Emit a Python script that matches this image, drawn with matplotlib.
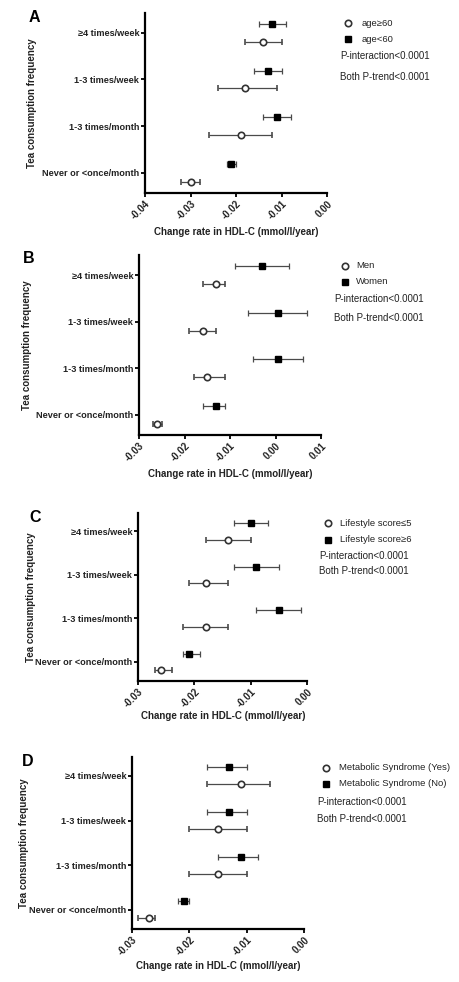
import numpy as np
import matplotlib
matplotlib.use('Agg')
import matplotlib.pyplot as plt
from matplotlib.lines import Line2D

plt.rcParams['font.family'] = ['Liberation Sans', 'DejaVu Sans']

# y categories, bottom to top
categories = ['Never or <once/month', '1-3 times/month', '1-3 times/week', '≥4 times/week']

# Panel A - age
a_open_mean = [-0.030, -0.019, -0.018, -0.014]
a_open_lo = [-0.032, -0.026, -0.024, -0.018]
a_open_hi = [-0.028, -0.012, -0.011, -0.010]
a_fill_mean = [-0.021, -0.011, -0.013, -0.012]
a_fill_lo = [-0.022, -0.014, -0.016, -0.015]
a_fill_hi = [-0.020, -0.008, -0.010, -0.009]

# Panel B - sex
b_open_mean = [-0.026, -0.015, -0.016, -0.013]
b_open_lo = [-0.027, -0.018, -0.019, -0.016]
b_open_hi = [-0.025, -0.011, -0.013, -0.011]
b_fill_mean = [-0.013, 0.0005, 0.0005, -0.003]
b_fill_lo = [-0.016, -0.005, -0.006, -0.009]
b_fill_hi = [-0.011, 0.006, 0.007, 0.003]

# Panel C - lifestyle score
c_open_mean = [-0.026, -0.018, -0.018, -0.014]
c_open_lo = [-0.027, -0.022, -0.021, -0.018]
c_open_hi = [-0.024, -0.014, -0.014, -0.010]
c_fill_mean = [-0.021, -0.005, -0.009, -0.010]
c_fill_lo = [-0.022, -0.009, -0.013, -0.013]
c_fill_hi = [-0.019, -0.001, -0.005, -0.007]

# Panel D - metabolic syndrome
d_open_mean = [-0.027, -0.015, -0.015, -0.011]
d_open_lo = [-0.029, -0.020, -0.020, -0.017]
d_open_hi = [-0.026, -0.010, -0.010, -0.006]
d_fill_mean = [-0.021, -0.011, -0.013, -0.013]
d_fill_lo = [-0.022, -0.015, -0.017, -0.017]
d_fill_hi = [-0.020, -0.008, -0.010, -0.010]

W, H = 459, 982
fig = plt.figure(figsize=(W / 100, H / 100), dpi=100)
fig.patch.set_facecolor('white')


def px_axes(left, top, right, bottom):
    return fig.add_axes([left / W, 1 - bottom / H, (right - left) / W, (bottom - top) / H])


def fx(x):
    return x / W


def fy(y):
    return 1 - y / H


panels = [
    # letter, axes box (l, t, r, b) in pixels, xticks, data, legend labels + positions
    dict(letter='A', box=(145, 12.7, 327, 192.7), xticks=[-0.04, -0.03, -0.02, -0.01, 0.00],
         opn=(a_open_mean, a_open_lo, a_open_hi), fil=(a_fill_mean, a_fill_lo, a_fill_hi),
         labels=('age≥60', 'age<60'), leg=(348, 362, 340, 23, 39, 56, 77),
         xlab=(236, 232), ylab=32, let=(34, 17)),
    dict(letter='B', box=(139, 255, 321, 435), xticks=[-0.03, -0.02, -0.01, 0.00, 0.01],
         opn=(b_open_mean, b_open_lo, b_open_hi), fil=(b_fill_mean, b_fill_lo, b_fill_hi),
         labels=('Men', 'Women'), leg=(345, 356, 334, 266, 282, 299, 318),
         xlab=(230, 474), ylab=27, let=(29, 258)),
    dict(letter='C', box=(138, 512.7, 307, 680.7), xticks=[-0.03, -0.02, -0.01, 0.00],
         opn=(c_open_mean, c_open_lo, c_open_hi), fil=(c_fill_mean, c_fill_lo, c_fill_hi),
         labels=('Lifestyle score≤5', 'Lifestyle score≥6'), leg=(328, 340, 319, 523, 540, 556, 571),
         xlab=(223, 716), ylab=31, let=(35, 517)),
    dict(letter='D', box=(132, 756.7, 304, 929), xticks=[-0.03, -0.02, -0.01, 0.00],
         opn=(d_open_mean, d_open_lo, d_open_hi), fil=(d_fill_mean, d_fill_lo, d_fill_hi),
         labels=('Metabolic Syndrome (Yes)', 'Metabolic Syndrome (No)'), leg=(326, 339, 317, 768, 784, 802, 819),
         xlab=(218, 966), ylab=24, let=(28, 762)),
]

pos = np.arange(len(categories))
off = 0.19
ecol = '#4a4a4a'

for p in panels:
    ax = px_axes(*p['box'])
    om, olo, ohi = [np.array(v) for v in p['opn']]
    fm, flo, fhi = [np.array(v) for v in p['fil']]

    # filled squares (upper row)
    ax.errorbar(fm, pos + off, xerr=[fm - flo, fhi - fm], fmt='s', color='black',
                ecolor=ecol, elinewidth=0.9, capsize=1.9, capthick=0.9, markersize=4.0, zorder=3)
    # open circles (lower row)
    ax.errorbar(om, pos - off, xerr=[om - olo, ohi - om], fmt='o', mfc='white', mec='#333333',
                mew=1.2, ecolor=ecol, elinewidth=0.9, capsize=1.9, capthick=0.9, markersize=4.6, zorder=3)

    ax.set_ylim(-0.43, 3.43)
    ax.set_xlim(p['xticks'][0], p['xticks'][-1])
    ax.set_yticks(pos)
    ax.set_yticklabels(categories, fontsize=6.6, fontweight='bold', color='#222222')
    ax.set_xticks(p['xticks'])
    ax.set_xticklabels(['%.2f' % t for t in p['xticks']], fontsize=7, fontweight='bold',
                       rotation=45, ha='right', rotation_mode='anchor', color='#222222')
    ax.tick_params(axis='both', direction='out', length=3, width=1.3, pad=1.2)
    for s in ['top', 'right']:
        ax.spines[s].set_visible(False)
    for s in ['left', 'bottom']:
        ax.spines[s].set_linewidth(1.6)

    # axis titles
    fig.text(fx(p['xlab'][0]), fy(p['xlab'][1]), 'Change rate in HDL-C (mmol/l/year)',
             ha='center', va='center', fontsize=7, fontweight='bold', color='#222222')
    ymid = (p['box'][1] + p['box'][3]) / 2
    fig.text(fx(p['ylab']), fy(ymid), 'Tea consumption frequency', rotation=90,
             ha='center', va='center', fontsize=7, fontweight='bold', color='#222222')
    fig.text(fx(p['let'][0]), fy(p['let'][1]), p['letter'], ha='center', va='center',
             fontsize=11.5, fontweight='bold')

    # legend block
    mx, tx, px_, y1, y2, y3, y4 = p['leg']
    fig.add_artist(Line2D([fx(mx)], [fy(y1)], marker='o', mfc='white', mec='#333333', mew=1.2,
                          markersize=4.6, transform=fig.transFigure))
    fig.add_artist(Line2D([fx(mx)], [fy(y2)], marker='s', color='black', markersize=4.0,
                          transform=fig.transFigure))
    fig.text(fx(tx), fy(y1), p['labels'][0], ha='left', va='center', fontsize=6.8, color='#222222')
    fig.text(fx(tx), fy(y2), p['labels'][1], ha='left', va='center', fontsize=6.8, color='#222222')
    fig.text(fx(px_), fy(y3), 'P-interaction<0.0001', ha='left', va='center', fontsize=7, color='#222222')
    fig.text(fx(px_), fy(y4), 'Both P-trend<0.0001', ha='left', va='center', fontsize=7, color='#222222')

fig.savefig('out.png', dpi=100, facecolor='white')
